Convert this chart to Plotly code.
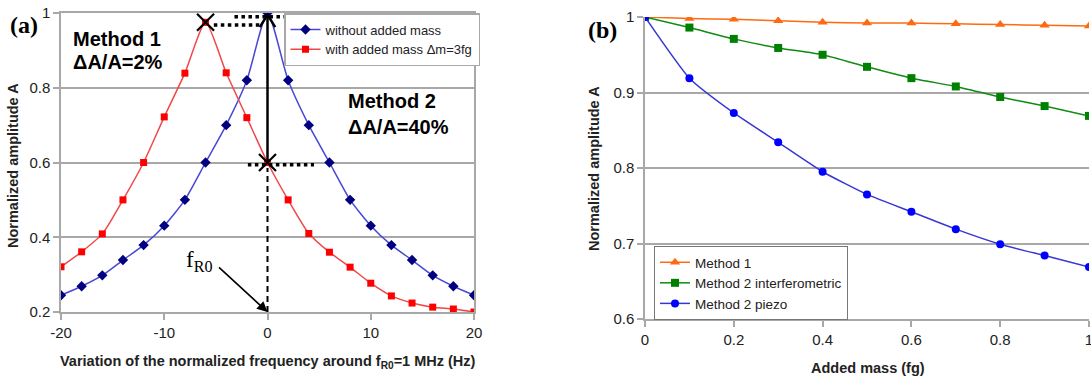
import plotly.graph_objects as go

W, H = 1091, 379

# ---------------- data (panel a) ----------------
freq = [-20, -18, -16, -14, -12, -10, -8, -6, -4, -2, 0, 2, 4, 6, 8, 10, 12, 14, 16, 18, 20]
amp_without = [0.245, 0.269, 0.298, 0.339, 0.379, 0.431, 0.50, 0.60, 0.70, 0.82, 1.0,
               0.82, 0.70, 0.60, 0.50, 0.431, 0.379, 0.339, 0.298, 0.269, 0.245]
amp_with = [0.321, 0.361, 0.409, 0.50, 0.60, 0.722, 0.839, 0.975, 0.84, 0.72, 0.60,
            0.50, 0.41, 0.36, 0.32, 0.277, 0.243, 0.224, 0.213, 0.208, 0.20]
x_ticks_a = [-20, -10, 0, 10, 20]
x_ticktext_a = ["-20", "-10", "0", "10", "20"]

# ---------------- data (panel b) ----------------
mass = [0, 0.1, 0.2, 0.3, 0.4, 0.5, 0.6, 0.7, 0.8, 0.9, 1.0]
method1 = [1.0, 0.998, 0.997, 0.995, 0.993, 0.992, 0.992, 0.991, 0.990, 0.989, 0.988]
method2_interf = [1.0, 0.986, 0.971, 0.959, 0.950, 0.934, 0.919, 0.908, 0.894, 0.882, 0.869]
method2_piezo = [1.0, 0.919, 0.873, 0.834, 0.795, 0.765, 0.742, 0.719, 0.699, 0.684, 0.669]


def px(x):
    return x / W


def py(y):
    return 1 - y / H


GRID = "#a8a8a8"
FONT = "Liberation Sans"
SERIF = "Liberation Serif"

fig = go.Figure()

# panel a traces
fig.add_trace(go.Scatter(
    x=freq, y=amp_without, mode="lines+markers", name="without added mass",
    line=dict(color="#4848d8", width=1.5, shape="spline", smoothing=0.6),
    marker=dict(symbol="diamond", size=8, color="#000080"),
    xaxis="x", yaxis="y", legend="legend"))
fig.add_trace(go.Scatter(
    x=freq, y=amp_with, mode="lines+markers", name="with added mass \u0394m=3fg",
    line=dict(color="#f04848", width=1.5, shape="spline", smoothing=0.6),
    marker=dict(symbol="square", size=7, color="#ff0000"),
    xaxis="x", yaxis="y", legend="legend"))

# cross marks: red peak and red value at f = 0
i_peak = amp_with.index(max(amp_with))
i_zero = freq.index(0)
fig.add_trace(go.Scatter(
    x=[freq[i_peak], freq[i_zero]], y=[amp_with[i_peak], amp_with[i_zero]],
    mode="markers", showlegend=False, hoverinfo="skip",
    marker=dict(symbol="x-thin-open", size=17, color="black",
                line=dict(color="black", width=2.2)),
    xaxis="x", yaxis="y"))

# panel b traces
fig.add_trace(go.Scatter(
    x=mass, y=method1, mode="lines+markers", name="Method 1",
    line=dict(color="#ff6a10", width=1.5, shape="spline", smoothing=0.5),
    marker=dict(symbol="triangle-up", size=9, color="#ff6a10"),
    xaxis="x2", yaxis="y2", legend="legend2"))
fig.add_trace(go.Scatter(
    x=mass, y=method2_interf, mode="lines+markers", name="Method 2 interferometric",
    line=dict(color="#108a10", width=1.5, shape="spline", smoothing=0.5),
    marker=dict(symbol="square", size=8, color="#008000"),
    xaxis="x2", yaxis="y2", legend="legend2"))
fig.add_trace(go.Scatter(
    x=mass, y=method2_piezo, mode="lines+markers", name="Method 2 piezo",
    line=dict(color="#3838d0", width=1.5, shape="spline", smoothing=0.5),
    marker=dict(symbol="circle", size=8, color="#0000ff"),
    xaxis="x2", yaxis="y2", legend="legend2"))

axis_common = dict(showline=True, linecolor=GRID, linewidth=1.5, ticks="outside",
                   ticklen=6, tickcolor=GRID, tickwidth=1.5, automargin=False,
                   tickfont=dict(family=FONT, size=15, color="#222222"), zeroline=False)

fig.update_layout(
    width=W, height=H, margin=dict(l=0, r=0, t=0, b=0, autoexpand=False),
    paper_bgcolor="white", plot_bgcolor="white",
    xaxis=dict(domain=[px(61), px(474)], range=[-20, 20], tickvals=x_ticks_a,
               ticktext=x_ticktext_a, showgrid=False, mirror=True, anchor="y",
               **axis_common),
    yaxis=dict(domain=[py(312), py(13)], range=[0.2, 1], dtick=0.2, showgrid=True,
               gridcolor=GRID, gridwidth=1.5, mirror=True, anchor="x", **axis_common),
    xaxis2=dict(domain=[px(645), px(1089)], range=[0, 1.0], dtick=0.2, showgrid=False,
                anchor="y2", ticklabeloverflow="allow", **axis_common),
    yaxis2=dict(domain=[py(319), py(17)], range=[0.6, 1.0], dtick=0.1, showgrid=True,
                gridcolor=GRID, gridwidth=1.5, anchor="x2", **axis_common),
    legend=dict(x=px(284), y=py(13), xanchor="left", yanchor="top",
                bgcolor="white", bordercolor=GRID, borderwidth=1.5,
                font=dict(family=FONT, size=13, color="#222222"),
                itemwidth=30, tracegroupgap=0),
    legend2=dict(x=px(654), y=py(246), xanchor="left", yanchor="top",
                 bgcolor="white", bordercolor="#777777", borderwidth=1,
                 font=dict(family=FONT, size=13.5, color="#222222"),
                 itemwidth=30, tracegroupgap=0),
    showlegend=True,
)

shapes = []
# vertical double arrow at f = 0
shapes.append(dict(type="line", xref="x", yref="y", x0=0, x1=0, y0=0.6, y1=0.995,
                   line=dict(color="black", width=2.5)))
shapes.append(dict(type="path", xref="x", yref="y",
                   path="M -0.75,0.962 L 0,0.995 L 0.75,0.962",
                   line=dict(color="black", width=2.5)))
# dashed vertical from the 0.6 level down to the axis
shapes.append(dict(type="line", xref="x", yref="y", x0=0, x1=0, y0=0.2, y1=0.585,
                   line=dict(color="black", width=2, dash="6px,4px")))
# dotted horizontal guides
shapes.append(dict(type="line", xref="x", yref="y", x0=-3.2, x1=1.9, y0=0.99, y1=0.99,
                   line=dict(color="black", width=3.5, dash="dot")))
shapes.append(dict(type="line", xref="x", yref="y", x0=-5.2, x1=-0.6, y0=0.968, y1=0.968,
                   line=dict(color="black", width=3.5, dash="dot")))
shapes.append(dict(type="line", xref="x", yref="y", x0=-1.9, x1=4.5, y0=0.594, y1=0.594,
                   line=dict(color="black", width=3.5, dash="dot")))
fig.update_layout(shapes=shapes)

ann = []


def text(x, y, s, size, bold=True, family=FONT, xanchor="left", angle=0, color="black"):
    ann.append(dict(x=px(x), y=py(y), xref="paper", yref="paper", text=(f"<b>{s}</b>" if bold else s),
                    showarrow=False, xanchor=xanchor, yanchor="middle", textangle=angle,
                    font=dict(family=family, size=size, color=color)))


text(24, 25, "(a)", 24, family=SERIF, xanchor="center")
text(603, 30, "(b)", 24, family=SERIF, xanchor="center")
text(71, 39, "Method 1", 20)
text(71, 62, "\u0394A/A=2%", 20)
text(346, 101, "Method 2", 20)
text(346, 127, "\u0394A/A=40%", 20)
text(184, 261, "f<sub>R0</sub>", 23, bold=False, family=SERIF)
text(268, 362, "Variation of the normalized frequency around f<sub>R0</sub>=1 MHz (Hz)", 14.5,
     xanchor="center", color="#222222")
text(868, 368, "Added mass (fg)", 14.5, xanchor="center", color="#222222")
text(13, 166, "Normalized amplitude A", 14.5, xanchor="center", angle=-90, color="#222222")
text(594, 168, "Normalized amplitude A", 14.5, xanchor="center", angle=-90, color="#222222")

# arrow pointing to f_R0 on the axis
ann.append(dict(x=0, y=0.2, xref="x", yref="y", ax=-50, ay=-46, text="", showarrow=True,
                arrowhead=2, arrowsize=1.3, arrowwidth=1.6, arrowcolor="black"))

fig.update_layout(annotations=ann)

fig.write_html("out.html", config={"displayModeBar": False},
               post_script="document.body.style.margin='0px';document.body.style.overflow='hidden';")
